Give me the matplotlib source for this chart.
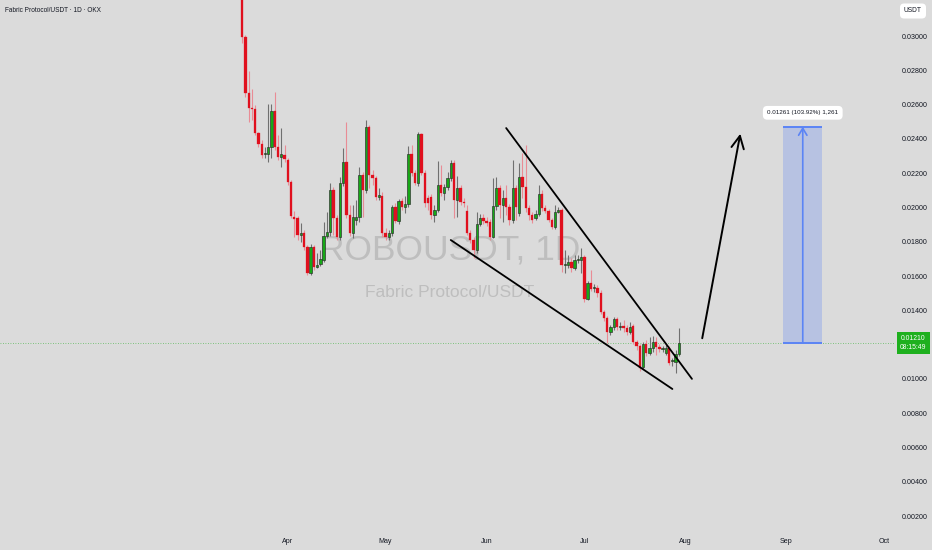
import matplotlib

matplotlib.use("Agg")

import matplotlib.dates as mdates
import matplotlib.pyplot as plt
import numpy as np
import pandas as pd
from matplotlib.patches import Rectangle

# ---- data: daily ROBO/USDT candles ------------------------------------------
opens = [0.03350, 0.02994, 0.02668, 0.02580, 0.02574, 0.02434, 0.02370, 0.02312, 0.02312, 0.02353,
         0.02563, 0.02353, 0.02294, 0.02306, 0.02277, 0.02148, 0.01944, 0.01938, 0.01839, 0.01851,
         0.01769, 0.01617, 0.01769, 0.01652, 0.01670, 0.01693, 0.01833, 0.01857, 0.02102, 0.01938,
         0.01828, 0.02143, 0.02265, 0.01956, 0.01851, 0.01927, 0.01944, 0.02189, 0.02102, 0.02469,
         0.02189, 0.02172, 0.02061, 0.02067, 0.01851, 0.01828, 0.01851, 0.02003, 0.01921, 0.02038,
         0.02003, 0.02020, 0.02312, 0.02201, 0.02143, 0.02428, 0.02201, 0.02055, 0.02061, 0.01956,
         0.01985, 0.02131, 0.02084, 0.02119, 0.02172, 0.02259, 0.02043, 0.02113, 0.02032, 0.01979,
         0.01851, 0.01810, 0.01752, 0.01903, 0.01938, 0.01921, 0.01915, 0.01828, 0.02008, 0.02113,
         0.02014, 0.02055, 0.02003, 0.01927, 0.02113, 0.01968, 0.02178, 0.02119, 0.01997, 0.01956,
         0.01938, 0.01962, 0.02078, 0.01997, 0.01979, 0.01927, 0.01886, 0.01973, 0.01985, 0.01664,
         0.01664, 0.01682, 0.01647, 0.01693, 0.01693, 0.01711, 0.01466, 0.01559, 0.01530, 0.01530,
         0.01501, 0.01390, 0.01355, 0.01274, 0.01303, 0.01349, 0.01303, 0.01308, 0.01297, 0.01274,
         0.01308, 0.01215, 0.01192, 0.01069, 0.01203, 0.01151, 0.01180, 0.01215, 0.01186, 0.01174,
         0.01151, 0.01180, 0.01104, 0.01098, 0.01145]
highs = [0.03450, 0.03006, 0.02796, 0.02691, 0.02598, 0.02440, 0.02393, 0.02353, 0.02603, 0.02603,
         0.02673, 0.02423, 0.02463, 0.02364, 0.02288, 0.02160, 0.01979, 0.01950, 0.01909, 0.01868,
         0.01781, 0.01787, 0.01781, 0.01734, 0.01752, 0.01915, 0.01973, 0.02143, 0.02119, 0.01956,
         0.02178, 0.02347, 0.02498, 0.02014, 0.02014, 0.02043, 0.02236, 0.02207, 0.02510, 0.02481,
         0.02218, 0.02183, 0.02113, 0.02090, 0.01880, 0.01868, 0.02014, 0.02026, 0.02049, 0.02055,
         0.02067, 0.02358, 0.02364, 0.02218, 0.02440, 0.02434, 0.02218, 0.02073, 0.02078, 0.02014,
         0.02271, 0.02248, 0.02137, 0.02207, 0.02277, 0.02277, 0.02183, 0.02131, 0.02055, 0.02014,
         0.01868, 0.01828, 0.01973, 0.01962, 0.01962, 0.01944, 0.01933, 0.02172, 0.02178, 0.02131,
         0.02102, 0.02131, 0.02020, 0.02277, 0.02131, 0.02259, 0.02318, 0.02364, 0.02014, 0.01973,
         0.01985, 0.02131, 0.02102, 0.02014, 0.01991, 0.01938, 0.02014, 0.02003, 0.01997, 0.01752,
         0.01723, 0.01705, 0.01723, 0.01723, 0.01763, 0.01723, 0.01571, 0.01635, 0.01553, 0.01548,
         0.01518, 0.01402, 0.01367, 0.01314, 0.01361, 0.01361, 0.01332, 0.01343, 0.01314, 0.01332,
         0.01320, 0.01227, 0.01203, 0.01215, 0.01227, 0.01244, 0.01250, 0.01244, 0.01203, 0.01192,
         0.01198, 0.01192, 0.01122, 0.01168, 0.01297]
lows = [0.02959, 0.02644, 0.02498, 0.02510, 0.02423, 0.02353, 0.02288, 0.02288, 0.02265, 0.02288,
        0.02335, 0.02277, 0.02236, 0.02265, 0.02131, 0.01938, 0.01828, 0.01810, 0.01798, 0.01752,
        0.01606, 0.01606, 0.01635, 0.01647, 0.01658, 0.01682, 0.01822, 0.01833, 0.01839, 0.01810,
        0.01810, 0.02125, 0.01938, 0.01833, 0.01822, 0.01898, 0.01915, 0.01944, 0.02084, 0.02113,
        0.02131, 0.02043, 0.02043, 0.01828, 0.01810, 0.01810, 0.01833, 0.01909, 0.01903, 0.01985,
        0.01968, 0.02003, 0.02183, 0.02131, 0.02125, 0.02189, 0.02003, 0.01985, 0.01933, 0.01915,
        0.01973, 0.02067, 0.02043, 0.02102, 0.02154, 0.01938, 0.01944, 0.02014, 0.02003, 0.01839,
        0.01793, 0.01705, 0.01734, 0.01892, 0.01903, 0.01892, 0.01810, 0.01822, 0.01985, 0.01938,
        0.01915, 0.01956, 0.01898, 0.01909, 0.01927, 0.01950, 0.02055, 0.01973, 0.01927, 0.01909,
        0.01927, 0.01950, 0.01979, 0.01968, 0.01915, 0.01874, 0.01874, 0.01968, 0.01623, 0.01617,
        0.01647, 0.01623, 0.01635, 0.01676, 0.01617, 0.01448, 0.01460, 0.01513, 0.01507, 0.01478,
        0.01378, 0.01338, 0.01209, 0.01256, 0.01285, 0.01285, 0.01285, 0.01274, 0.01256, 0.01262,
        0.01203, 0.01168, 0.01046, 0.01058, 0.01134, 0.01139, 0.01157, 0.01139, 0.01157, 0.01157,
        0.01139, 0.01081, 0.01075, 0.01034, 0.01134]
closes = [0.02994, 0.02668, 0.02580, 0.02574, 0.02434, 0.02370, 0.02306, 0.02318, 0.02353, 0.02563,
          0.02353, 0.02294, 0.02312, 0.02283, 0.02148, 0.01950, 0.01933, 0.01839, 0.01851, 0.01769,
          0.01617, 0.01769, 0.01652, 0.01664, 0.01699, 0.01833, 0.01857, 0.02102, 0.01938, 0.01828,
          0.02143, 0.02265, 0.01956, 0.01851, 0.01944, 0.01944, 0.02189, 0.02102, 0.02469, 0.02189,
          0.02172, 0.02061, 0.02073, 0.01851, 0.01828, 0.01851, 0.02003, 0.01921, 0.02038, 0.02003,
          0.02020, 0.02312, 0.02201, 0.02143, 0.02428, 0.02201, 0.02026, 0.02026, 0.01956, 0.01985,
          0.02131, 0.02084, 0.02119, 0.02172, 0.02259, 0.02043, 0.02113, 0.02032, 0.02026, 0.01851,
          0.01810, 0.01752, 0.01903, 0.01938, 0.01921, 0.01909, 0.01828, 0.02008, 0.02113, 0.02014,
          0.02055, 0.02003, 0.01927, 0.02113, 0.02003, 0.02178, 0.02119, 0.01997, 0.01956, 0.01927,
          0.01962, 0.02078, 0.01997, 0.01979, 0.01927, 0.01886, 0.01973, 0.01985, 0.01664, 0.01670,
          0.01682, 0.01647, 0.01693, 0.01699, 0.01711, 0.01466, 0.01559, 0.01524, 0.01530, 0.01501,
          0.01390, 0.01355, 0.01274, 0.01303, 0.01349, 0.01303, 0.01308, 0.01297, 0.01274, 0.01303,
          0.01215, 0.01192, 0.01063, 0.01203, 0.01151, 0.01180, 0.01215, 0.01186, 0.01174, 0.01174,
          0.01180, 0.01093, 0.01104, 0.01145, 0.01210]
last_day = "2025-07-30"
last_price = 0.01210
countdown = "08:15:49"

# drawings (date, price)
upper_line = [("2025-06-07", 0.02463), ("2025-08-03", 0.01000)]
lower_line = [("2025-05-21", 0.01810), ("2025-07-28", 0.00941)]
target_arrow = [("2025-08-06", 0.01221), ("2025-08-18", 0.02446)]
measure_days = ("2025-08-31", "2025-09-12")
measure_gain = 0.01261
measure_label = "0.01261 (103.92%) 1,261"

# 0.012 sits under the live-price badge, so it is not labelled
price_ticks = [0.002, 0.004, 0.006, 0.008, 0.010, 0.014, 0.016,
               0.018, 0.020, 0.022, 0.024, 0.026, 0.028, 0.030]
month_ticks = ["2025-04-01", "2025-05-01", "2025-06-01", "2025-07-01",
               "2025-08-01", "2025-09-01", "2025-10-01"]

BG = "#DBDBDB"
INK = "#131722"
UP, UP_EDGE, UP_WICK = "#17A817", "#2A2A2A", "#707070"
DN, DN_WICK = "#E0101E", "#E98C95"
BLUE = "#5B84F5"

plt.rcParams["font.family"] = ["Liberation Sans", "DejaVu Sans"]

days = pd.date_range(end=last_day, periods=len(closes), freq="D")
t = mdates.date2num(days.to_pydatetime())
o, h, l, c = map(np.asarray, (opens, highs, lows, closes))
up = c >= o

fig = plt.figure(figsize=(9.32, 5.5), dpi=100, facecolor=BG)
ax = fig.add_axes([0, 1 - 530 / 550, 895 / 932, 530 / 550], facecolor=BG)

# wicks, then bodies
ax.vlines(t[up], l[up], h[up], color=UP_WICK, lw=0.8, zorder=2)
ax.vlines(t[~up], l[~up], h[~up], color=DN_WICK, lw=0.8, zorder=2)
body = np.maximum(np.abs(c - o), 0.00006)
ax.bar(t[up], body[up], 0.72, bottom=np.minimum(o, c)[up], color=UP,
       edgecolor=UP_EDGE, linewidth=0.45, zorder=3)
ax.bar(t[~up], body[~up], 0.72, bottom=np.minimum(o, c)[~up], color=DN,
       edgecolor=DN, linewidth=0.2, zorder=3)

# current price line
ax.axhline(last_price, color="#5DBB5D", lw=0.6, ls=(0, (1, 2)), zorder=1)


def _pt(p):
    return mdates.datestr2num(p[0]), p[1]


# wedge lines + projection arrow
for seg in (upper_line, lower_line):
    (x0, y0), (x1, y1) = _pt(seg[0]), _pt(seg[1])
    ax.plot([x0, x1], [y0, y1], color="black", lw=1.3, zorder=4,
            solid_capstyle="round")
ax.annotate("", xy=_pt(target_arrow[1]), xytext=_pt(target_arrow[0]),
            arrowprops=dict(arrowstyle="->,head_length=0.9,head_width=0.45",
                            color="black", lw=1.4), zorder=4)

# long-position measurement box
mx0, mx1 = (mdates.datestr2num(d) for d in measure_days)
top = last_price + measure_gain
ax.add_patch(Rectangle((mx0, last_price), mx1 - mx0, measure_gain,
                       facecolor="#2962FF", alpha=0.2, edgecolor="none", zorder=2))
ax.hlines([last_price, top], mx0, mx1, color=BLUE, lw=1.4, zorder=3)
mid = (mx0 + mx1) / 2
ax.annotate("", xy=(mid, top), xytext=(mid, last_price),
            arrowprops=dict(arrowstyle="->,head_length=0.5,head_width=0.3",
                            color=BLUE, lw=1.2, shrinkA=0, shrinkB=0), zorder=3)
ax.annotate(measure_label, xy=(mid, top), xytext=(0, 10), textcoords="offset points",
            ha="center", va="center", fontsize=4.5, color=INK,
            bbox=dict(boxstyle="round,pad=0.7", fc="white", ec="none"), zorder=5)

# watermark
ax.text(0.503, 0.528, "ROBOUSDT, 1D", transform=ax.transAxes, ha="center",
        va="center", fontsize=25.5, color="#BEBEBE", zorder=0)
ax.text(0.502, 0.449, "Fabric Protocol/USDT", transform=ax.transAxes, ha="center",
        va="center", fontsize=12.5, color="#BEBEBE", zorder=0)

# axes
ax.set_xlim(mdates.datestr2num("2025-04-01") - 88.3, mdates.datestr2num("2025-04-01") + 186.3)
ax.set_ylim(0.001185, 0.0321)
ax.set_xticks([mdates.datestr2num(d) for d in month_ticks])
ax.xaxis.set_major_formatter(mdates.DateFormatter("%b"))
ax.set_yticks(price_ticks)
ax.yaxis.set_major_formatter(matplotlib.ticker.FormatStrFormatter("%.5f"))
ax.yaxis.tick_right()
ax.tick_params(axis="both", length=0, labelsize=5.1, labelcolor=INK)
ax.tick_params(axis="x", pad=6)
ax.tick_params(axis="y", pad=5)
for s in ax.spines.values():
    s.set_visible(False)

# right-axis badges
ax.annotate(f"{last_price:.5f}\n{countdown}", xy=(1, last_price), xycoords=("axes fraction", "data"),
            xytext=(13.2, 0), textcoords="offset points", ha="center", va="center",
            fontsize=4.9, color="white", linespacing=1.45, annotation_clip=False,
            bbox=dict(boxstyle="square,pad=0.45", fc="#1EB01E", ec="none"), zorder=6)
fig.text(913 / 932, 1 - 11 / 550, "USDT", ha="center", va="center", fontsize=4.8,
         color=INK, bbox=dict(boxstyle="round,pad=0.6", fc="white", ec="none"))

fig.text(5 / 932, 1 - 10 / 550, "Fabric Protocol/USDT · 1D · OKX", ha="left", va="center",
         fontsize=4.7, color=INK)

fig.savefig("out.png", dpi=100, facecolor=BG)
